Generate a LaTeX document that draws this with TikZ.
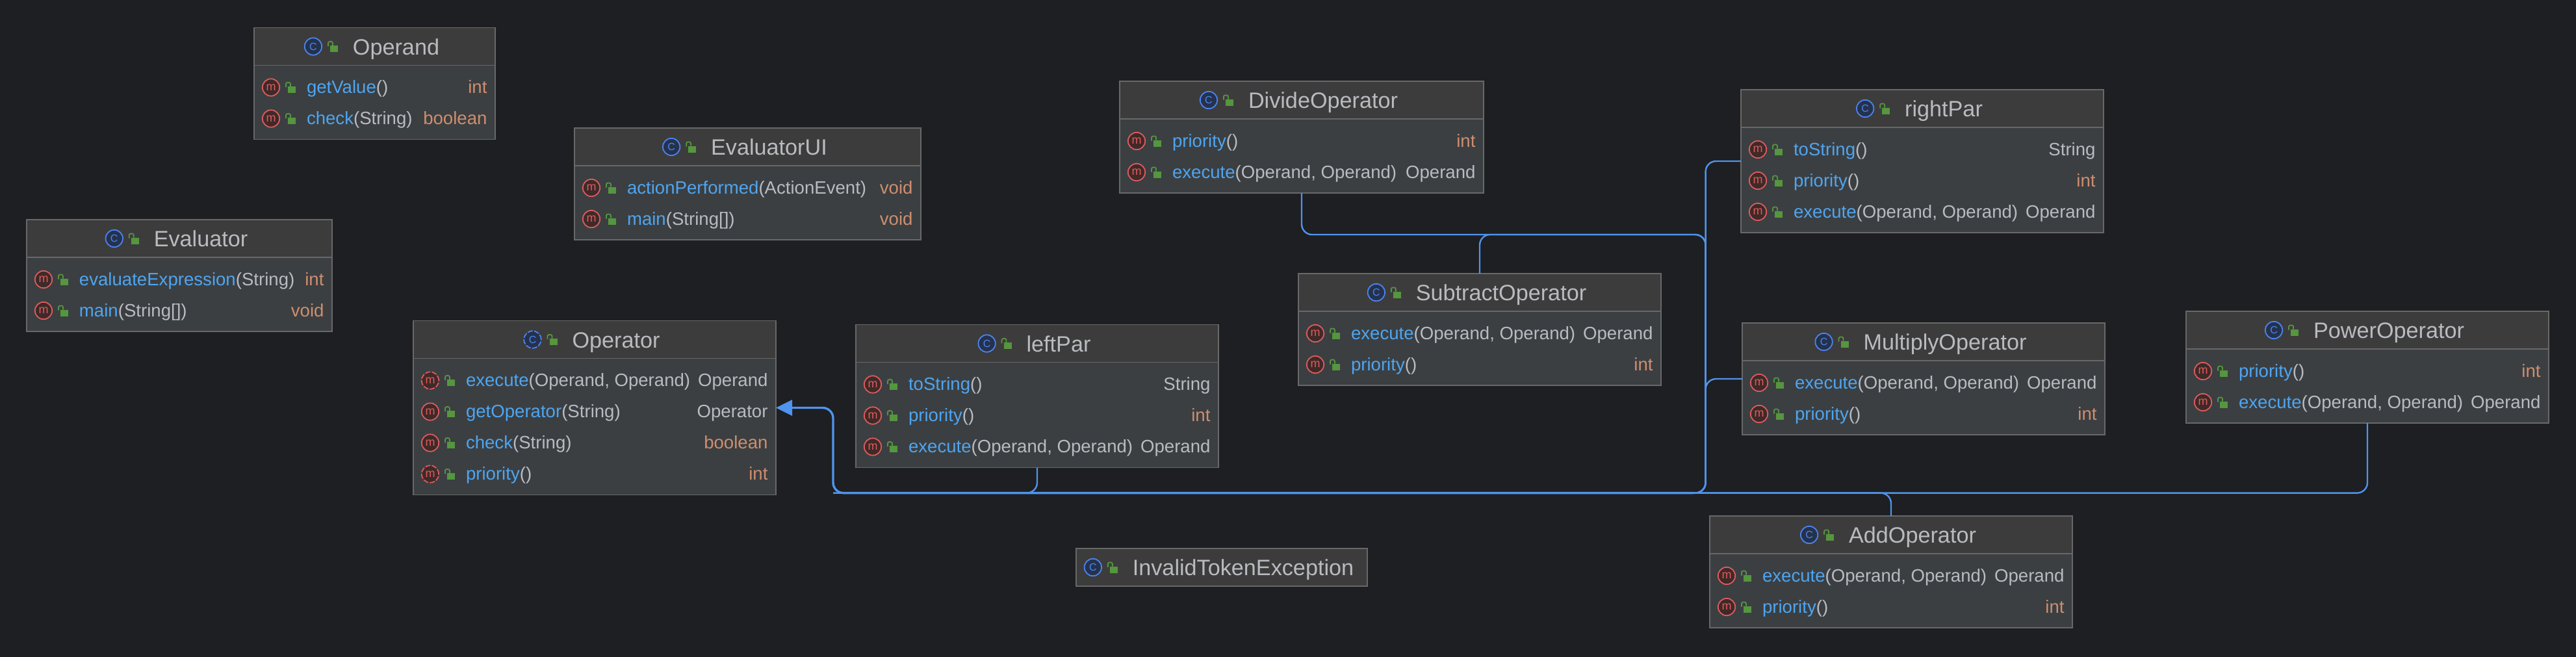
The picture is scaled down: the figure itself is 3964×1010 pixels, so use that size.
\documentclass[tikz,border=0pt]{standalone}
\usepackage{fontspec}
\setmainfont{Liberation Sans}
\usepackage{tikz}
\usetikzlibrary{arrows.meta}

\definecolor{canvasdark}{HTML}{1E1F22}
\definecolor{headgray}{HTML}{3D3C3C}
\definecolor{bodygray}{HTML}{3B3F42}
\definecolor{edgegray}{HTML}{686868}
\definecolor{textgray}{HTML}{B9BBC0}
\definecolor{methodblue}{HTML}{4FA5F0}
\definecolor{typeorange}{HTML}{CF8E6D}
\definecolor{linkblue}{HTML}{4F94EE}
\definecolor{lockgreen}{HTML}{55963F}
\definecolor{classring}{HTML}{4B84F0}
\definecolor{classfill}{HTML}{25324D}
\definecolor{methodring}{HTML}{DB5C5C}
\definecolor{methodfill}{HTML}{402929}

\tikzset{
    classbody/.style={rectangle,draw=edgegray,fill=bodygray,line width=0.45pt,inner sep=0,outer sep=0,anchor=north west},
    classhead/.style={rectangle,draw=edgegray,fill=headgray,line width=0.45pt,inner sep=0,outer sep=0,anchor=north west},
    classtitle/.style={text=textgray,font=\fontsize{8.55}{10}\selectfont,inner sep=0,outer sep=0,anchor=base},
    rowtext/.style={text=textgray,font=\fontsize{6.9}{9}\selectfont,inner sep=0,outer sep=0,anchor=base west},
    plaintype/.style={text=textgray,font=\fontsize{6.9}{9}\selectfont,inner sep=0,outer sep=0,anchor=base east},
    basictype/.style={plaintype,text=typeorange},
    classicon/.style={circle,draw=classring,fill=classfill,text=classring,line width=0.45pt,minimum size=6.6pt,inner sep=0,font=\fontsize{4}{4}\selectfont},
    abstractclass/.style={classicon,dash pattern=on 2pt off 0.55pt},
    methodicon/.style={circle,draw=methodring,fill=methodfill,text=methodring,line width=0.45pt,minimum size=6.6pt,inner sep=0,font=\fontsize{4.5}{4.5}\selectfont},
    abstractmethod/.style={methodicon,dash pattern=on 2pt off 0.55pt},
    lockicon/.pic={
        \fill[lockgreen] (-6,-5) rectangle (6,5);
        \draw[lockgreen,line width=0.45pt,rounded corners=0.6pt] (-9,-4) -- (-9,-11) -- (-2,-11) -- (-2,-5);
    },
    branchlink/.style={draw=linkblue,line width=0.6pt,rounded corners=4pt},
    mainlink/.style={draw=linkblue,line width=0.85pt,rounded corners=4pt,-{Triangle[length=6.25pt,width=6pt]}}
}

\newcommand{\classbox}[6][classicon]{
    \node[classbody,minimum width=#5*0.25pt,minimum height=#6*0.25pt] (#2) at (#3,#4) {};
    \node[classhead,minimum width=#5*0.25pt,minimum height=58*0.25pt] (#2-head) at (#2.north west) {};
    \node[classtitle] (#2-title) at ([shift={(33,12.5)}]#2-head.center) {#2};
    \node[#1,xshift=-15.25pt] (#2-icon) at (#2-title.west |- #2-head.center) {C};
    \pic at ([shift={(32,3.5)}]#2-icon.center) {lockicon};
}

\newcommand{\classrow}[7][methodicon]{
    \node[#1] (#2-m#3) at ([shift={(26,44+48*#3)}]#2.north west) {m};
    \pic at ([shift={(32,3.5)}]#2-m#3.center) {lockicon};
    \node[rowtext] (#2-t#3) at ([shift={(55,9)}]#2-m#3.center) {\textcolor{methodblue}{#4}#5};
    \node[#7] (#2-r#3) at ([shift={(-12.5,53+48*#3)}]#2.north east) {#6};
}

\begin{document}
\begin{tikzpicture}[x=0.25pt,y=-0.25pt]
    \useasboundingbox (0,0) rectangle (3964,1010);
    \fill[canvasdark] (-8,-8) rectangle (3972,1018);

    \classbox{Operand}{391}{42.5}{371}{172}
    \classrow{Operand}{1}{getValue}{()}{int}{basictype}
    \classrow{Operand}{2}{check}{(String)}{boolean}{basictype}

    \classbox{Evaluator}{41}{338}{470}{172}
    \classrow{Evaluator}{1}{evaluateExpression}{(String)}{int}{basictype}
    \classrow{Evaluator}{2}{main}{(String[])}{void}{basictype}

    \classbox{EvaluatorUI}{884}{197}{533}{172}
    \classrow{EvaluatorUI}{1}{actionPerformed}{(ActionEvent)}{void}{basictype}
    \classrow{EvaluatorUI}{2}{main}{(String[])}{void}{basictype}

    \classbox[abstractclass]{Operator}{636}{493.5}{558}{268}
    \classrow[abstractmethod]{Operator}{1}{execute}{(Operand, Operand)}{Operand}{plaintype}
    \classrow{Operator}{2}{getOperator}{(String)}{Operator}{plaintype}
    \classrow{Operator}{3}{check}{(String)}{boolean}{basictype}
    \classrow[abstractmethod]{Operator}{4}{priority}{()}{int}{basictype}

    \classbox{leftPar}{1317}{499.5}{558}{220}
    \classrow{leftPar}{1}{toString}{()}{String}{plaintype}
    \classrow{leftPar}{2}{priority}{()}{int}{basictype}
    \classrow{leftPar}{3}{execute}{(Operand, Operand)}{Operand}{plaintype}

    \classbox{DivideOperator}{1723}{125}{560}{172}
    \classrow{DivideOperator}{1}{priority}{()}{int}{basictype}
    \classrow{DivideOperator}{2}{execute}{(Operand, Operand)}{Operand}{plaintype}

    \classbox{SubtractOperator}{1998}{421}{558}{172}
    \classrow{SubtractOperator}{1}{execute}{(Operand, Operand)}{Operand}{plaintype}
    \classrow{SubtractOperator}{2}{priority}{()}{int}{basictype}

    \classbox{rightPar}{2679}{138}{558}{220}
    \classrow{rightPar}{1}{toString}{()}{String}{plaintype}
    \classrow{rightPar}{2}{priority}{()}{int}{basictype}
    \classrow{rightPar}{3}{execute}{(Operand, Operand)}{Operand}{plaintype}

    \classbox{MultiplyOperator}{2681}{497}{558}{172}
    \classrow{MultiplyOperator}{1}{execute}{(Operand, Operand)}{Operand}{plaintype}
    \classrow{MultiplyOperator}{2}{priority}{()}{int}{basictype}

    \classbox{PowerOperator}{3364}{479}{558}{172}
    \classrow{PowerOperator}{1}{priority}{()}{int}{basictype}
    \classrow{PowerOperator}{2}{execute}{(Operand, Operand)}{Operand}{plaintype}

    \classbox{AddOperator}{2631}{794}{558}{172}
    \classrow{AddOperator}{1}{execute}{(Operand, Operand)}{Operand}{plaintype}
    \classrow{AddOperator}{2}{priority}{()}{int}{basictype}

    \classbox{InvalidTokenException}{1656}{844}{448}{56}

    \coordinate (busJoin) at (2606,758.6);
    \coordinate (busWest) at (1282,758.6);
    \coordinate (trunkTop) at (2624.6,361);
    \coordinate (trunkBottom) at (2624.6,758.6);

    \path[branchlink] (DivideOperator.south) |- (trunkTop) -- (trunkBottom) -- (busJoin);
    \path[branchlink] (SubtractOperator.north) |- (trunkTop) -- (trunkBottom) -- (busJoin);
    \path[branchlink] (rightPar.west) -| (trunkBottom) -- (busJoin);
    \path[branchlink] (MultiplyOperator.west) -| (trunkBottom) -- (busJoin);
    \path[branchlink] (PowerOperator.south) |- (busJoin);
    \path[branchlink] (AddOperator.north) |- (busJoin);
    \path[branchlink] (leftPar.south) |- (busWest);
    \path[mainlink] (busJoin) -- (busWest) -- (busWest |- Operator.east) -- (Operator.east);
\end{tikzpicture}
\end{document}
